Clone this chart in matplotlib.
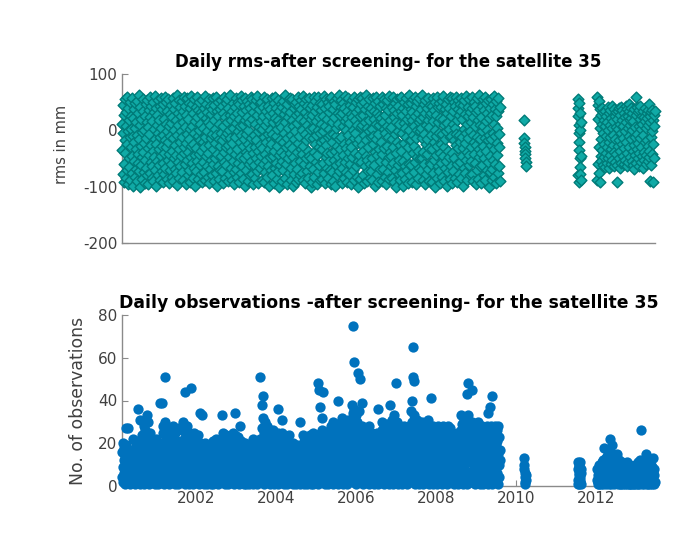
import numpy as np
import matplotlib
matplotlib.use('Agg')
from matplotlib import pyplot as plt

plt.rcParams['font.family'] = ['DejaVu Sans']
plt.rcParams['axes.unicode_minus'] = False

# daily rms (mm), main period 2000.15 - 2009.6, one value every ~3 days
rms_main = [
    -35, 12, -78, 45, -5, -92, 28, -60, 55, -18, -40, 8, -85, 33, -70, 60, -25, -2, -95, 40, -50, 18, -65, -12, 50, -88, 3, -30, 25, -75,
    58, -45, -10, -98, 22, -55, 38, -20, -82, 5, 48, -68, -33, 15, -90, 52, -8, -58, 30, -42, 62, -72, -15, 10, -100, 42, -28, -62, 20, -48,
    -3, -86, 35, -38, 56, -22, -74, 0, -94, 26, -52, 46, -14, -66, 14, -80, 54, -32, 6, -96, 36, -44, -6, 24, -76, 59, -26, -56, 44, -84,
    16, -64, -36, 50, -90, 2, 32, -48, -16, 61, -70, -24, 40, -99, 9, -54, 27, -4, -80, 53, -34, -62, 18, -88, 43, -12, -46, 4, 57, -72,
    -28, 38, -92, -8, 47, -58, 21, -40, -78, 60, -18, -66, 11, -30, 51, -86, -2, 34, -52, -20, 56, -94, 7, -42, 29, -70, -10, 45, -60, 13,
    -82, 24, -36, 58, -14, -90, 37, -50, 1, -68, 49, -26, -76, 19, -44, 62, -8, -97, 31, -56, 10, -34, 54, -84, -20, 41, -64, -2, 26, -46,
    52, -74, -12, 35, -88, 15, -40, 60, -30, -60, 6, 44, -96, -22, 28, -52, 57, -6, -80, 20, -38, 48, -70, -16, 3, -92, 39, -48, 61, -28,
    -58, 8, 46, -84, -24, 30, -66, 55, -4, -44, 17, -98, 42, -32, -72, 23, 59, -54, -10, 36, -86, 0, -42, 50, -18, -62, 12, -78, 33, -36,
    27, -92, 53, -20, -56, 4, 40, -74, -30, 61, -12, -88, 22, -46, 47, -64, -2, 32, -82, 14, -40, 56, -26, -94, 9, 43, -68, -14, 29, -52,
    -6, 38, -80, 58, -34, -60, 18, -90, 45, -22, -50, 2, 60, -76, -8, 34, -42, -98, 25, -64, 51, -16, 11, -86, 37, -28, -70, 54, -4, -46,
    44, -18, -72, 7, -94, 31, -38, 59, -56, -10, 23, -84, 49, -30, -62, 15, -4, 55, -90, -26, 39, -48, 1, -78, 28, -14, 62, -66, -36, 19,
    -88, 35, -22, -54, 48, 5, -74, 26, -96, 41, -12, -42, 57, -68, 13, -34, 30, -82, 50, -2, -58, 21, -92, 46, -20, -48, 8, 61, -76, -8,
    33, -64, 54, -28, -86, 10, 43, -50, -16, 58, -98, 18, -38, 36, -70, -6, 52, -44, 24, -90, 0, -24, 47, -60, 14, -80, 39, -32, -54, 60,
    -14, -78, 20, 56, -40, -96, 32, -8, -62, 45, -30, 12, -84, 53, -50, -18, 27, -72, 61, -36, -2, -94, 38, -56, 6, 49, -26, -66, 16, -46,
    50, -32, -88, 3, 42, -60, 25, -92, -12, 59, -42, 9, -74, 34, -20, -52, 55, -82, 17, -6, -64, 44, -34, 28, -98, 0, -48, 37, -16, -70,
    -24, 57, -6, -80, 31, -46, 14, -94, 48, -36, -66, 22, 60, -10, -58, 40, -86, 2, -28, 53, -72, 19, -44, -100, 35, -18, 11, -62, 46, -38,
    6, -54, 41, -90, -20, 52, -70, 29, -4, -44, 62, -84, 15, -30, 36, -60, -14, 47, -96, 24, -50, 4, 56, -76, -26, 33, -40, 58, -88, -8,
    -66, 18, -32, 55, -98, 8, -48, 39, -16, -78, 46, -2, -58, 27, -92, 51, -38, 13, -68, 60, -22, -86, 30, -10, 43, -54, -80, 21, -34, 54,
    37, -76, 0, -42, 61, -28, -88, 16, 49, -60, -6, 32, -94, 56, -18, -50, 10, -72, 44, -36, 25, -84, -12, 58, -46, 3, -64, 40, -100, 20,
    -50, 28, -92, 45, -14, -68, 5, 59, -38, -82, 34, -24, 52, -56, 17, -8, -96, 41, -44, 1, 60, -74, -30, 23, -62, 48, -4, -88, 36, -20,
    12, -86, 47, -34, -58, 26, -2, 61, -76, -18, 39, -94, 8, -48, 55, -26, -66, 20, -40, 50, -12, -84, 33, -54, 2, 44, -70, -8, 57, -96,
    -40, 60, -20, -74, 15, 38, -90, -6, 52, -52, 24, -36, -98, 46, -10, 4, -62, 57, -28, -80, 31, -46, 11, -16, 62, -72, 27, -58, -34, 42,
    54, -12, -66, 30, -94, 48, -44, 7, -24, -84, 40, 17, -56, 61, -32, -74, 1, 35, -92, 22, -8, -50, 58, -38, -78, 13, 45, -20, -60, 29,
    -30, -96, 24, 53, -48, 0, -70, 42, -14, 59, -88, 19, -40, -4, 50, -64, 32, -82, -22, 9, 56, -54, -100, 37, -16, -44, 26, 60, -86, 6,
    46, -56, 10, -26, 58, -80, -36, 28, -94, 51, -8, -64, 15, 37, -46, -18, 62, -90, 4, -52, 43, -30, -72, 18, -2, 55, -60, 33, -84, -12,
    -72, 40, -50, 3, -88, 57, -24, -10, 35, -62, 21, -98, 48, -38, 12, -16, 60, -78, 30, -44, -6, 52, -92, 26, -34, 9, -68, 44, -54, 16,
    22, -20, 59, -90, -42, 14, 47, -68, 2, -32, 56, -82, 27, -4, -56, 39, -96, 8, 53, -28, -74, 36, -12, -48, 61, -86, 19, -38, 3, -64,
    -46, 6, -84, 42, -16, -58, 60, -30, 23, -92, 36, -6, -70, 49, -40, 15, -100, 31, -20, 55, -62, -2, 44, -78, 12, -52, 58, -26, -88, 34,
    59, -36, -4, -76, 27, -98, 40, -54, 13, 50, -22, -64, 5, -86, 34, -12, 57, -44, -70, 20, -30, 46, -94, 0, 62, -60, 25, -18, -80, 38,
    -18, 49, -62, 18, -92, 33, -40, 55, -8, -74, 8, -28, 60, -56, 26, -96, 43, -14, -48, 1, 52, -84, 30, -36, -66, 14, 58, -2, -50, 21,
    4, -70, 37, -50, 62, -14, -88, 24, -38, 47, -60, -6, 31, -96, 54, -24, 10, -78, 40, -42, -16, 57, -68, 19, -32, 6, -90, 45, -58, 28,
    -60, 31, -8, -92, 44, -34, 16, -76, 58, -20, -52, 36, -100, 0, 51, -44, -10, 27, -84, 60, -28, 14, -64, 41, -4, -72, 49, -40, 22, -94,
    42, -24, -58, 52, -6, -82, 21, -46, 61, -30, 9, -90, 37, -16, -66, 46, -2, -54, 30, -98, 13, -36, 56, -74, 3, 40, -48, -12, 59, -86,
    -10, -64, 26, -40, 57, -94, 11, 34, -72, -18, 50, -50, 4, -84, 43, -26, 60, -6, -60, 18, -92, 38, -32, 54, -78, -8, 28, -56, 47, -20,
    35, -84, 58, -12, -46, 20, -98, 45, -32, 3, -66, 53, -22, -76, 29, -4, 61, -52, 12, -38, -88, 42, -14, 25, -62, 56, -44, -2, -80, 32,
    -54, 14, -30, 60, -78, 39, -8, -90, 23, -42, 50, -20, -58, 7, 44, -96, 33, -26, -70, 57, -12, 18, -86, 36, -48, 62, -34, -64, 10, -16,
    24, -40, -94, 43, -2, -62, 55, -28, 8, -80, 36, -50, 59, -14, -88, 17, -36, 48, -70, 0, 31, -56, -18, 54, -100, 22, -8, 40, -46, -74,
    -26, 56, -16, -68, 28, -88, 46, -4, -52, 12, -34, 61, -82, 38, -60, -10, 25, -94, 52, -22, 5, -44, 34, -76, 58, -30, -6, -64, 42, -90,
]

# daily number of observations, same days
obs_main = [
    16, 4, 9, 20, 2, 12, 6, 18, 1, 10, 14, 3, 19, 7, 11, 5, 16, 2, 8, 13, 17, 4, 6, 12, 9, 1, 15, 11, 3, 8,
    5, 13, 22, 8, 2, 17, 10, 4, 14, 1, 9, 19, 6, 12, 3, 16, 7, 21, 11, 2, 15, 5, 8, 18, 1, 13, 6, 10, 4, 14,
    9, 24, 3, 15, 7, 28, 12, 1, 19, 5, 26, 10, 2, 17, 8, 22, 14, 4, 30, 11, 6, 18, 1, 13, 25, 7, 16, 3, 20, 9,
    12, 2, 18, 7, 21, 4, 14, 9, 1, 16, 6, 22, 10, 3, 19, 8, 13, 1, 17, 5, 11, 20, 2, 15, 7, 12, 4, 18, 9, 6,
    20, 8, 28, 3, 14, 25, 6, 18, 1, 30, 11, 4, 22, 9, 16, 2, 27, 13, 5, 19, 10, 24, 1, 15, 7, 21, 3, 12, 26, 8,
    6, 17, 2, 23, 10, 28, 4, 14, 19, 1, 12, 25, 7, 16, 3, 21, 9, 13, 1, 18, 5, 27, 11, 2, 15, 8, 20, 4, 10, 14,
    13, 26, 4, 18, 9, 30, 2, 15, 22, 7, 11, 1, 24, 16, 5, 19, 28, 3, 12, 8, 21, 14, 1, 17, 6, 25, 10, 3, 20, 9,
    18, 5, 12, 22, 1, 15, 8, 25, 3, 11, 19, 6, 14, 2, 21, 9, 16, 4, 13, 24, 7, 1, 17, 10, 20, 3, 12, 6, 15, 8,
    7, 14, 2, 19, 10, 4, 16, 1, 12, 20, 6, 9, 3, 17, 11, 5, 15, 1, 8, 18, 13, 2, 10, 6, 19, 4, 14, 9, 1, 12,
    11, 3, 17, 8, 21, 1, 13, 6, 19, 10, 2, 15, 22, 5, 12, 9, 18, 3, 14, 7, 1, 20, 11, 4, 16, 8, 2, 13, 19, 6,
    4, 19, 10, 25, 2, 14, 7, 22, 12, 1, 17, 9, 24, 5, 15, 11, 3, 20, 8, 16, 1, 13, 23, 6, 18, 10, 2, 21, 14, 7,
    15, 8, 22, 3, 12, 25, 6, 18, 1, 14, 10, 24, 4, 16, 9, 20, 2, 13, 7, 23, 11, 1, 17, 5, 19, 12, 3, 15, 21, 6,
    9, 2, 14, 18, 5, 11, 1, 16, 7, 20, 3, 12, 8, 1, 15, 10, 4, 19, 6, 13, 2, 17, 9, 1, 11, 14, 5, 18, 3, 8,
    12, 20, 4, 15, 9, 1, 22, 7, 13, 3, 18, 10, 2, 16, 6, 21, 11, 1, 14, 8, 19, 4, 12, 17, 2, 9, 22, 5, 15, 10,
    18, 6, 27, 11, 32, 3, 20, 14, 1, 25, 9, 16, 30, 4, 22, 12, 7, 28, 2, 17, 10, 24, 5, 19, 13, 1, 26, 8, 15, 21,
    10, 22, 3, 17, 26, 8, 14, 1, 20, 12, 5, 24, 9, 2, 18, 15, 6, 21, 11, 1, 16, 25, 4, 13, 19, 7, 2, 23, 10, 14,
    6, 16, 25, 2, 12, 20, 8, 1, 18, 10, 23, 4, 14, 7, 22, 11, 1, 17, 13, 5, 21, 9, 3, 15, 24, 6, 12, 19, 2, 10,
    13, 3, 9, 17, 1, 12, 20, 6, 14, 2, 10, 18, 5, 11, 1, 15, 8, 19, 4, 13, 7, 16, 2, 9, 12, 1, 17, 6, 14, 3,
    8, 19, 2, 14, 24, 5, 11, 21, 1, 16, 9, 23, 3, 13, 18, 7, 1, 20, 10, 15, 4, 22, 12, 2, 17, 6, 24, 9, 1, 14,
    15, 4, 21, 9, 1, 25, 12, 17, 3, 19, 7, 23, 10, 2, 14, 20, 6, 11, 24, 1, 16, 8, 22, 13, 4, 18, 9, 2, 25, 11,
    20, 7, 14, 26, 2, 18, 10, 24, 4, 12, 22, 1, 16, 9, 25, 5, 13, 19, 3, 21, 11, 1, 17, 23, 7, 14, 26, 2, 10, 18,
    12, 28, 5, 19, 24, 1, 15, 30, 8, 21, 3, 17, 26, 10, 2, 22, 13, 6, 29, 11, 18, 1, 25, 9, 16, 27, 4, 20, 14, 7,
    24, 9, 32, 15, 3, 27, 19, 1, 22, 12, 30, 6, 17, 25, 2, 21, 14, 28, 8, 1, 18, 31, 11, 5, 23, 16, 26, 3, 20, 13,
    30, 15, 38, 8, 22, 34, 2, 26, 18, 36, 11, 4, 28, 20, 1, 33, 14, 24, 7, 30, 17, 3, 25, 12, 35, 9, 21, 2, 27, 16,
    14, 26, 5, 22, 28, 10, 18, 1, 24, 12, 20, 3, 27, 16, 8, 23, 2, 19, 13, 25, 6, 21, 15, 1, 28, 11, 17, 4, 22, 9,
    10, 20, 3, 16, 25, 7, 13, 22, 1, 18, 11, 24, 5, 14, 2, 21, 9, 17, 25, 4, 12, 19, 1, 15, 23, 8, 2, 20, 13, 6,
    18, 4, 26, 12, 30, 7, 21, 15, 1, 28, 10, 23, 3, 19, 25, 8, 14, 29, 2, 17, 22, 11, 5, 27, 13, 1, 24, 16, 9, 20,
    22, 10, 31, 5, 18, 27, 1, 24, 14, 33, 8, 20, 2, 29, 16, 11, 25, 4, 21, 30, 7, 13, 1, 26, 19, 9, 28, 3, 17, 23,
    8, 24, 15, 1, 27, 19, 11, 3, 22, 28, 6, 17, 13, 25, 2, 20, 9, 26, 14, 1, 23, 18, 5, 28, 10, 16, 21, 4, 12, 25,
    26, 13, 35, 7, 21, 30, 2, 18, 24, 10, 33, 15, 1, 28, 20, 6, 25, 12, 31, 3, 19, 27, 9, 16, 1, 23, 29, 14, 5, 22,
    17, 28, 4, 22, 12, 30, 9, 25, 1, 19, 14, 27, 6, 21, 2, 16, 29, 11, 24, 3, 20, 13, 26, 8, 1, 18, 23, 10, 28, 15,
    12, 21, 3, 26, 16, 8, 28, 1, 19, 14, 24, 5, 11, 27, 2, 22, 17, 9, 25, 13, 1, 20, 6, 28, 15, 10, 23, 4, 18, 26,
    20, 6, 27, 13, 1, 24, 17, 9, 28, 3, 22, 15, 11, 26, 2, 19, 8, 25, 14, 1, 21, 28, 5, 16, 12, 23, 3, 18, 27, 10,
    9, 18, 2, 23, 14, 25, 6, 12, 20, 1, 16, 24, 8, 3, 19, 11, 22, 4, 15, 25, 7, 13, 1, 21, 17, 5, 10, 23, 14, 2,
    26, 12, 33, 5, 21, 29, 14, 1, 24, 18, 31, 9, 3, 27, 16, 22, 7, 30, 11, 1, 25, 19, 33, 4, 13, 28, 20, 2, 23, 15,
    18, 27, 6, 22, 30, 11, 2, 25, 15, 29, 8, 20, 1, 24, 13, 28, 4, 17, 26, 10, 21, 3, 30, 14, 7, 23, 19, 1, 27, 12,
    14, 24, 3, 20, 28, 9, 17, 1, 26, 12, 22, 6, 27, 15, 2, 19, 25, 8, 13, 28, 4, 21, 11, 1, 24, 16, 7, 26, 18, 10,
    22, 8, 28, 14, 1, 25, 18, 5, 27, 11, 20, 2, 24, 16, 9, 28, 3, 19, 13, 26, 6, 21, 1, 15, 28, 10, 23, 4, 17, 12,
]

# days with many observations
peak_years = [2000.25, 2000.3, 2000.55, 2000.6, 2000.78, 2001.1, 2001.15, 2001.22, 2001.72, 2001.88,
              2002.1, 2002.15, 2002.65, 2002.98, 2003.1, 2003.6, 2003.65, 2003.68, 2004.05, 2004.15,
              2004.6, 2005.05, 2005.07, 2005.1, 2005.15, 2005.17, 2005.55, 2005.93, 2005.95, 2006.05,
              2006.1, 2006.15, 2006.55, 2006.85, 2007.0, 2007.4, 2007.42, 2007.43, 2007.44, 2007.8,
              2007.88, 2008.78, 2008.8, 2008.9, 2009.3, 2009.35, 2009.4]
peak_obs = [27, 27, 36, 31, 33, 39, 39, 51, 44, 46,
            34, 33, 33, 34, 28, 51, 38, 42, 36, 31,
            30, 48, 45, 37, 32, 44, 40, 75, 58, 53,
            50, 39, 36, 38, 48, 40, 65, 51, 49, 31,
            41, 43, 48, 45, 34, 37, 42]

# short period in 2010
rms_2010 = [18, -14, -22, -30, -36, -42, -50, -57, -64]
obs_2010 = [13, 10, 8, 6, 4, 2, 1, 3, 5]

# short period in 2011
rms_2011 = [56, 40, 25, -80, 10, -92, -5, 48, -20, -35, -50, 30, -65, 0, -78, 15, -45, -88]
obs_2011 = [11, 3, 8, 1, 6, 10, 2, 5, 9, 1, 4, 7, 2, 11, 3, 6, 1, 8]

# 2012 - 2013
rms_2012 = [
    60, -88, 45, -60, 20, -75, 52, -30, 5, -92, 38, -45, -15, 28, -55, 12, -35, 40, -62, -5, 33, -48, 18, -25, -65, 8, 35, -40, -10, 25,
    -58, 14, -30, 42, -50, 0, -66, 30, -20, 10, -44, 36, -12, -60, 22, -34, 4, -52, 44, -26, -8, 16, -64, 38, -38, 26, -16, -56, 6, 32,
    -42, 20, -62, -92, 34, -28, 2, -50, 40, -18, -66, 12, 28, -36, -4, 42, -58, 18, -24, 36, -46, 8, -14, -60, 30, -32, 24, -52, -2, 44,
    -20, 14, -64, 38, -40, 4, 26, -56, -10, 34, -30, 46, -48, 10, 18, 22, -16, 40, -54, 0, 30, -36, 16, -62, -68, -26, 38, -44, 6, -12,
    28, -58, 60, -34, 42, -6, -50, 32, -22, 8, -64, 36, -40, 20, -14, 44, -56, 2, -30, 26, -46, 12, -66, 34, -8, -38, 24, -52, 16, -20,
    40, -44, 4, -60, 30, -18, 22, -54, 36, -28, 10, -48, 46, -36, 14, -90, 26, -12, -62, 32, -2, -42, 36, -24, 18, -92, 28, -50, 8, 34,
]
obs_2012 = [
    3, 8, 1, 5, 2, 6, 10, 1, 4, 7, 2, 9, 3, 1, 6, 11, 2, 5, 8, 1, 12, 4, 18, 7, 2, 10, 3, 13, 6, 1,
    9, 4, 14, 2, 11, 6, 1, 16, 8, 3, 12, 22, 5, 10, 1, 13, 7, 19, 4, 9, 2, 15, 6, 11, 1, 8, 12, 3, 10, 5,
    2, 9, 15, 4, 11, 1, 7, 12, 3, 8, 1, 6, 10, 2, 5, 9, 1, 7, 3, 11, 4, 1, 8, 2, 6, 10, 3, 1, 7, 5,
    2, 8, 4, 1, 11, 6, 3, 9, 1, 5, 2, 7, 1, 10, 4, 2, 8, 1, 6, 3, 9, 1, 5, 2, 7, 4, 1, 10, 3, 6,
    1, 5, 8, 2, 10, 4, 1, 7, 11, 3, 6, 1, 9, 2, 12, 5, 8, 26, 3, 10, 1, 6, 4, 9, 2, 11, 7, 1, 5, 3,
    8, 2, 10, 15, 4, 1, 7, 12, 3, 9, 1, 6, 11, 2, 5, 8, 1, 10, 4, 7, 2, 9, 1, 6, 13, 3, 8, 1, 5, 2,
]

# first and last day of each period (decimal year)
periods = {
    'main': (2000.15, 2009.6),
    '2010': (2010.19, 2010.24),
    '2011': (2011.54, 2011.62),
    '2012': (2012.02, 2013.46),
}

years_ticks = [2002, 2004, 2006, 2008, 2010, 2012]


def days(name, n):
    a, b = periods[name]
    return np.linspace(a, b, n)


rms_sets = [('main', rms_main), ('2010', rms_2010), ('2011', rms_2011), ('2012', rms_2012)]
obs_sets = [('main', obs_main), ('2010', obs_2010), ('2011', obs_2011), ('2012', obs_2012)]

rms_x = np.concatenate([days(k, len(v)) for k, v in rms_sets])
rms_y = np.concatenate([v for k, v in rms_sets])
obs_x = np.concatenate([days(k, len(v)) for k, v in obs_sets] + [np.array(peak_years)])
obs_y = np.concatenate([v for k, v in obs_sets] + [peak_obs])

fig = plt.figure(figsize=(6.8, 5.4), dpi=100)
ax1 = fig.add_axes([122 / 680, 1 - 243 / 540, 533 / 680, 169 / 540])
ax2 = fig.add_axes([122 / 680, 1 - 486 / 540, 533 / 680, 171 / 540])

xlim = (2000.15, 2013.47)
axis_col = '#8a8a8a'
text_col = '#404040'

ax1.scatter(rms_x, rms_y, s=30, marker='D', facecolor='#10aaa6', edgecolor='#007b78',
            linewidths=1.0, clip_on=False, zorder=3)
ax1.set_xlim(xlim)
ax1.set_ylim(-200, 100)
ax1.set_yticks([-200, -100, 0, 100])
ax1.set_xticks([])
ax1.set_ylabel('rms in mm', fontsize=10.5, color=text_col)
ax1.yaxis.set_label_coords(-0.10, 0.586)
ax1.set_title('Daily rms-after screening- for the satellite 35', fontsize=12,
              fontweight='bold', pad=5)

ax2.scatter(obs_x, obs_y, s=55, marker='o', color='#0072bd', linewidths=0,
            clip_on=False, zorder=3)
ax2.set_xlim(xlim)
ax2.set_ylim(0, 80)
ax2.set_yticks([0, 20, 40, 60, 80])
ax2.set_xticks(years_ticks)
ax2.set_ylabel('No. of observations', fontsize=12.4, color=text_col)
ax2.yaxis.set_label_coords(-0.066, 0.497)
ax2.set_title('Daily observations -after screening- for the satellite 35', fontsize=12.4,
              fontweight='bold', pad=5)

for ax in (ax1, ax2):
    ax.spines['top'].set_visible(False)
    ax.spines['right'].set_visible(False)
    for s in ('left', 'bottom'):
        ax.spines[s].set_color(axis_col)
        ax.spines[s].set_linewidth(1.0)
    ax.tick_params(direction='in', length=4, width=0.8, color=axis_col,
                   labelcolor=text_col, labelsize=11)

fig.savefig('out.png', dpi=100)
